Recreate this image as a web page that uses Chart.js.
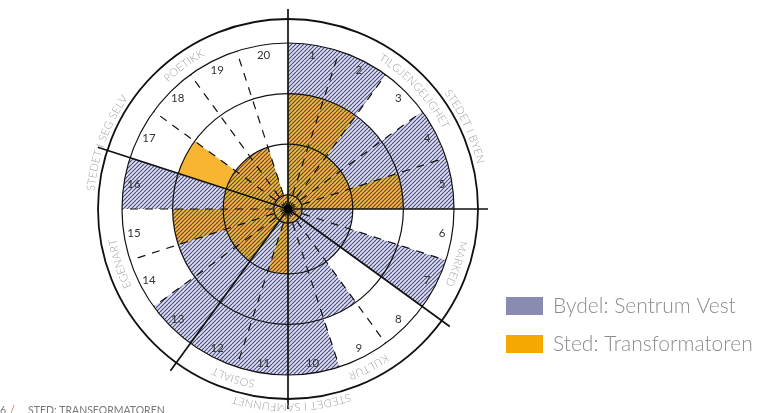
<!DOCTYPE html>
<html>
<head>
<meta charset="utf-8">
<script src="https://cdn.jsdelivr.net/npm/chart.js@4.4.0/dist/chart.umd.min.js"></script>
<style>
html,body{margin:0;padding:0;background:#fff;}
#wrap{width:761px;height:413px;position:relative;overflow:hidden;}
</style>
</head>
<body>
<div id="wrap"><canvas id="c" width="761" height="413"></canvas></div>
<script>
// ---- data ----
const segments = ['1','2','3','4','5','6','7','8','9','10','11','12','13','14','15','16','17','18','19','20'];
const bydelValues = [3,3,2,3,3,1,3,1,2,3,3,3,3,2,2,3,1,1,1,0];
const stedValues  = [2,2,1,1,2,0,0,0,0,0,1,0,1,1,2,1,2,1,1,0];
const seriesLabels = ['Bydel: Sentrum Vest','Sted: Transformatoren'];
const ringTicks = [0,1,2,3];
const subcatLabels = ['TILGJENGELIGHET','MARKED','KULTUR','SOSIALT','EGENART','POETIKK'];
const subcatEnds = [5,7,10,12,16,20];
const groupLabels = ['STEDET I BYEN','STEDET I SAMFUNNET','STEDET I SEG SELV'];
const groupEnds = [7,12,20];
const footerPage = '6';
const footerTitle = 'STED: TRANSFORMATOREN';

// ---- styles ----
const LAVENDER = '#dddef0';
const STRIPE = 'rgba(55,57,115,0.88)';
const ORANGE = '#f7b532';
const LEGEND_COLORS = ['#8a8bb1','#f5a800'];

function makeHatch(fg) {
  const s = 4;
  const c = document.createElement('canvas');
  c.width = s; c.height = s;
  const x = c.getContext('2d');
  x.strokeStyle = fg; x.lineWidth = 1.15;
  x.beginPath();
  for (const k of [-s, 0, s]) { x.moveTo(k, s); x.lineTo(k + s, 0); }
  x.stroke();
  return x.createPattern(c, 'repeat');
}
const hatch = makeHatch(STRIPE);

function arcText(ctx, text, cx, cy, r, thetaDeg, spacing) {
  const chars = [...text];
  const widths = chars.map(ch => ctx.measureText(ch).width);
  const total = widths.reduce((a, b) => a + b, 0) + spacing * (chars.length - 1);
  const start = thetaDeg * Math.PI / 180 - total / (2 * r);
  let acc = 0;
  chars.forEach((ch, i) => {
    const th = start + (acc + widths[i] / 2) / r;
    ctx.save();
    ctx.translate(cx + r * Math.sin(th), cy - r * Math.cos(th));
    ctx.rotate(th);
    ctx.fillText(ch, 0, 0);
    ctx.restore();
    acc += widths[i] + spacing;
  });
}

const decor = {
  id: 'decor',
  afterDraw(chart, args, opts) {
    const ctx = chart.ctx;
    const sc = chart.scales.r;
    const cx = sc.xCenter, cy = sc.yCenter;
    const rMax = sc.getDistanceFromCenterForValue(ringTicks[ringTicks.length - 1]);
    const n = segments.length;
    const step = 2 * Math.PI / n;
    const solidIdx = new Set([0, ...subcatEnds.slice(0, -1)]);
    ctx.save();
    // dashed segment borders
    ctx.strokeStyle = '#111';
    ctx.lineWidth = 1.2;
    ctx.setLineDash([8, 7]);
    for (let i = 0; i < n; i++) {
      if (solidIdx.has(i)) continue;
      const th = i * step;
      ctx.beginPath();
      ctx.moveTo(cx, cy);
      ctx.lineTo(cx + rMax * Math.sin(th), cy - rMax * Math.cos(th));
      ctx.stroke();
    }
    ctx.setLineDash([]);
    // solid group lines
    ctx.lineWidth = 1.7;
    solidIdx.forEach(i => {
      const th = i * step;
      ctx.beginPath();
      ctx.moveTo(cx, cy);
      ctx.lineTo(cx + opts.lineR * Math.sin(th), cy - opts.lineR * Math.cos(th));
      ctx.stroke();
    });
    // outer circle
    ctx.lineWidth = 1.8;
    ctx.beginPath();
    ctx.arc(cx, cy, opts.outerR, 0, 2 * Math.PI);
    ctx.stroke();
    // center dot
    ctx.fillStyle = '#000';
    ctx.beginPath();
    ctx.arc(cx, cy, 4, 0, 2 * Math.PI);
    ctx.fill();
    // segment numbers
    ctx.fillStyle = '#333';
    ctx.font = '11.5px Lato, "Open Sans", sans-serif';
    ctx.textAlign = 'center';
    ctx.textBaseline = 'middle';
    segments.forEach((s, i) => {
      const th = (i + 0.5) * step;
      ctx.fillText(s, cx + opts.numR * Math.sin(th), cy - opts.numR * Math.cos(th));
    });
    // subcategory labels
    ctx.fillStyle = '#a3a3a3';
    ctx.font = '300 11px Lato, "Open Sans", sans-serif';
    let prev = 0;
    subcatLabels.forEach((lab, i) => {
      const mid = (prev + subcatEnds[i]) / 2 * 360 / n + (opts.subOffsets[i] || 0);
      arcText(ctx, lab, cx, cy, opts.subR, mid, 0.3);
      prev = subcatEnds[i];
    });
    prev = 0;
    groupLabels.forEach((lab, i) => {
      const mid = (prev + groupEnds[i]) / 2 * 360 / n + (opts.groupOffsets[i] || 0);
      arcText(ctx, lab, cx, cy, opts.groupR, mid, 0.3);
      prev = groupEnds[i];
    });
    // legend
    ctx.textAlign = 'left';
    ctx.textBaseline = 'middle';
    ctx.font = '300 21px Lato, "Open Sans", sans-serif';
    seriesLabels.forEach((lab, i) => {
      const y = opts.legendY + i * opts.legendGap;
      ctx.fillStyle = LEGEND_COLORS[i];
      ctx.fillRect(opts.legendX, y - 9, 37, 18);
      ctx.fillStyle = '#8c8c8c';
      ctx.fillText(lab, opts.legendX + 47, y);
    });
    // footer
    ctx.textBaseline = 'alphabetic';
    ctx.font = '10.5px Lato, "Open Sans", sans-serif';
    ctx.fillStyle = '#777';
    ctx.textAlign = 'right';
    ctx.fillText(footerPage, 6, 414);
    ctx.fillStyle = '#e8603a';
    ctx.textAlign = 'left';
    ctx.fillText('/', 10, 414);
    ctx.fillStyle = '#777';
    ctx.fillText(footerTitle, 28, 414);
    ctx.restore();
  }
};

new Chart(document.getElementById('c'), {
  type: 'polarArea',
  data: {
    labels: segments,
    datasets: [
      { label: seriesLabels[0], data: bydelValues, backgroundColor: hatch, borderWidth: 0 },
      { label: seriesLabels[1], data: stedValues, backgroundColor: ORANGE, borderWidth: 0 },
      { label: seriesLabels[0], data: bydelValues, backgroundColor: LAVENDER, borderWidth: 0 }
    ]
  },
  options: {
    responsive: false,
    animation: false,
    devicePixelRatio: 1,
    layout: { padding: { left: 122, top: 43, right: 307, bottom: 38 } },
    events: [],
    plugins: {
      legend: { display: false },
      tooltip: { enabled: false },
      decor: {
        lineR: 200, outerR: 190, numR: 156, subR: 178, groupR: 198,
        subOffsets: [2, 0, 0, 0, 0, 0], groupOffsets: [2, 8, 2],
        legendX: 506, legendY: 306, legendGap: 38
      }
    },
    scales: {
      r: {
        min: -0.28,
        max: 3,
        afterBuildTicks: (scale) => { scale.ticks = ringTicks.map(v => ({ value: v })); },
        ticks: { display: false },
        grid: { color: '#111', lineWidth: 1.2, z: 1 },
        angleLines: { display: false },
        pointLabels: { display: false }
      }
    }
  },
  plugins: [decor]
});
</script>
</body>
</html>
